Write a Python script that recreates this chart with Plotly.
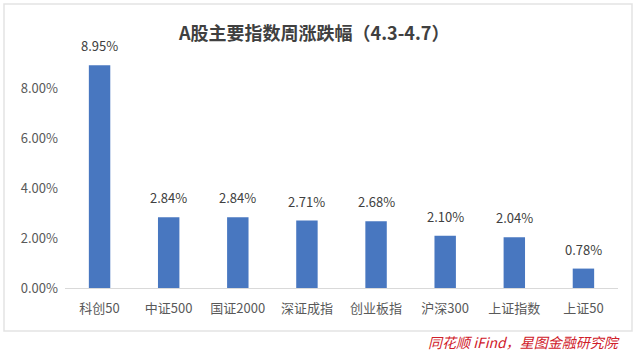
import plotly.graph_objects as go

categories = ["科创50", "中证500", "国证2000", "深证成指", "创业板指", "沪深300", "上证指数", "上证50"]
values = [8.95, 2.84, 2.84, 2.71, 2.68, 2.10, 2.04, 0.78]
tick_vals = [0, 2, 4, 6, 8]
tick_text = ["0.00%", "2.00%", "4.00%", "6.00%", "8.00%"]

FONT = "Noto Sans CJK SC, Noto Sans, sans-serif"

fig = go.Figure()
fig.add_trace(go.Bar(
    x=categories, y=values,
    marker=dict(color="#4877C0", line=dict(width=0)),
    width=0.31,
    cliponaxis=False,
))
for c, v in zip(categories, values):
    fig.add_annotation(x=c, y=v, text=f"{v:.2f}%", showarrow=False,
                       yanchor="bottom", yshift=8,
                       font=dict(size=13, color="#404040", family=FONT))

L, R, T, B = 65, 22, 39, 65
W, H = 640, 353
pw, ph = W - L - R, H - T - B

def px(x):
    return (x - L) / pw

def py(y):
    return (H - B - y) / ph

fig.add_shape(type="rect", xref="paper", yref="paper",
              x0=px(4), x1=px(632), y0=py(4), y1=py(331),
              line=dict(color="#e3e3e3", width=1.5), fillcolor="rgba(0,0,0,0)", layer="below")

fig.add_annotation(text="<b>A股主要指数周涨跌幅（4.3-4.7）</b>", xref="paper", yref="paper",
                   x=px(313), y=py(32), xanchor="center", yanchor="middle", showarrow=False,
                   font=dict(size=18, color="#404040", family=FONT))
fig.add_annotation(text="<i>同花顺 iFind，星图金融研究院</i>", xref="paper", yref="paper",
                   x=px(622), y=py(342), xanchor="right", yanchor="middle", showarrow=False,
                   font=dict(size=14, color="#d0202a", family=FONT))

fig.update_layout(
    width=W, height=H,
    margin=dict(l=L, r=R, t=T, b=B),
    paper_bgcolor="white", plot_bgcolor="white",
    showlegend=False,
    bargap=0.69,
    font=dict(family=FONT),
)
fig.update_xaxes(showline=True, linecolor="#d9d9d9", linewidth=1, ticks="",
                 tickfont=dict(size=13, color="#595959", family=FONT), ticklabelstandoff=8)
fig.update_yaxes(range=[0, 10], tickvals=tick_vals, ticktext=tick_text, showgrid=False,
                 zeroline=False, showline=False,
                 tickfont=dict(size=13, color="#595959", family=FONT), ticklabelstandoff=6)

fig.write_html("out.html")
